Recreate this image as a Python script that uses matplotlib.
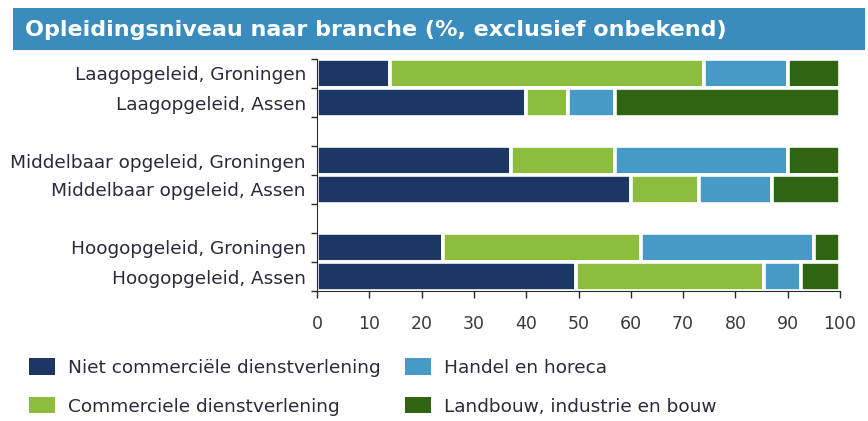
import numpy as np
import matplotlib
matplotlib.use('Agg')
import matplotlib.pyplot as plt
from matplotlib.patches import Rectangle, Patch

plt.rcParams['font.family'] = ['DejaVu Sans']

# rows top to bottom, None = empty slot between groups
labels = ['Laagopgeleid, Groningen', 'Laagopgeleid, Assen', None,
          'Middelbaar opgeleid, Groningen', 'Middelbaar opgeleid, Assen', None,
          'Hoogopgeleid, Groningen', 'Hoogopgeleid, Assen']
niet_comm = [14, 40, None, 37, 60, None, 24, 49.5]
comm = [60, 8, None, 20, 13, None, 38, 36]
handel = [16, 9, None, 33, 14, None, 33, 7]
landbouw = [10, 43, None, 10, 13, None, 5, 7.5]

series = ['Niet commerciële dienstverlening', 'Commerciele dienstverlening',
          'Handel en horeca', 'Landbouw, industrie en bouw']
colors = ['#1c3764', '#8dbd3e', '#479ac6', '#2f6512']

fig = plt.figure(figsize=(8.68, 4.21), dpi=100)

# title banner
fig.patches.append(Rectangle((13 / 868, 1 - 50 / 421), 852 / 868, 42 / 421,
                             transform=fig.transFigure, facecolor='#3a8cbd',
                             edgecolor='none', zorder=0))
fig.text(25 / 868, 1 - 30 / 421, 'Opleidingsniveau naar branche (%, exclusief onbekend)',
         color='white', fontsize=16, fontweight='bold', va='center', ha='left')

ax = fig.add_axes([317 / 868, 1 - 291 / 421, 523 / 868, 232 / 421])

n = len(labels)
ypos = np.arange(n)
for i in range(n):
    if labels[i] is None:
        continue
    left = 0
    for vals, c in zip((niet_comm, comm, handel, landbouw), colors):
        ax.barh(ypos[i], vals[i], left=left, height=1.0, color=c,
                edgecolor='white', linewidth=2.6)
        left += vals[i]

ax.set_ylim(n - 0.5, -0.5)
ax.set_xlim(0, 100)
ax.set_xticks(range(0, 101, 10))
ax.set_yticks([i for i in range(n) if labels[i] is not None])
ax.set_yticklabels([l for l in labels if l is not None])
ax.set_yticks(np.arange(-0.5, n, 1), minor=True)
ax.tick_params(axis='y', which='major', length=0, labelsize=13.3, pad=8, colors='#2a2a3a')
ax.tick_params(axis='y', which='minor', length=4, width=1, color='#2a2a2a')
ax.tick_params(axis='x', length=5, width=1, color='#2a2a2a', labelsize=12.5,
               labelcolor='#3a3a3a', pad=12)
for s in ('top', 'right'):
    ax.spines[s].set_visible(False)
ax.spines['left'].set_color('#2a2a2a')
ax.spines['bottom'].set_color('#2a2a2a')

handles = [Patch(facecolor=c, edgecolor='none') for c in colors]
fig.legend(handles, series, loc='upper left', bbox_to_anchor=(29 / 868, 1 - 358 / 421),
           ncol=2, frameon=False, fontsize=13.3, handlelength=1.4, handleheight=1.0,
           handletextpad=0.7, columnspacing=1.35, labelspacing=1.1, borderaxespad=0,
           borderpad=0, labelcolor='#2a2a3a')

fig.savefig('out.png', dpi=100)
